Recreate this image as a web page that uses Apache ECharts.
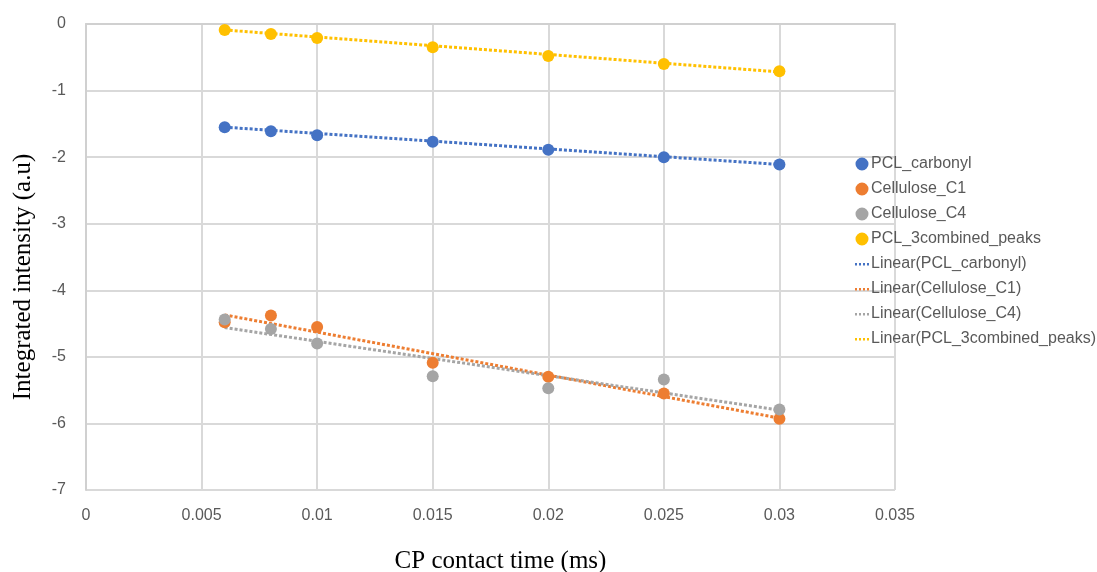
<!DOCTYPE html>
<html>
<head>
<meta charset="utf-8">
<script src="https://cdn.jsdelivr.net/npm/echarts@6/dist/echarts.min.js"></script>
<style>
  html, body { margin: 0; padding: 0; background: #fff; }
  #chart { width: 1097px; height: 572px; }
</style>
</head>
<body>
<div id="chart"></div>
<script>
// CP contact times (ms)
const contactTimes = [0.006, 0.008, 0.01, 0.015, 0.02, 0.025, 0.03];

// integrated intensities
const pclCarbonyl = [-1.55, -1.61, -1.67, -1.77, -1.89, -2.0, -2.11];
const celluloseC1 = [-4.48, -4.38, -4.55, -5.09, -5.3, -5.55, -5.93];
const celluloseC4 = [-4.44, -4.58, -4.8, -5.29, -5.47, -5.34, -5.79];
const pcl3Combined = [-0.09, -0.15, -0.21, -0.35, -0.48, -0.6, -0.71];

// trend line end points (at first and last contact time)
const trendX = [0.006, 0.03];
const trendPcl = [-1.55, -2.11];
const trendC1 = [-4.37, -5.92];
const trendC4 = [-4.56, -5.8];
const trendPcl3 = [-0.09, -0.72];

const seriesNames = ['PCL_carbonyl', 'Cellulose_C1', 'Cellulose_C4', 'PCL_3combined_peaks'];
const colors = ['#4472C4', '#ED7D31', '#A5A5A5', '#FFC000'];

const zip = (xs, ys) => xs.map((x, i) => [x, ys[i]]);

// legend markers: a smaller dot and a short dotted line, both in a 16x16 box
const dotIcon = 'path://M1.5,8a6.5,6.5 0 1,0 13,0a6.5,6.5 0 1,0 -13,0zM0,0h0.01v0.01h-0.01zM16,16h0.01v0.01h-0.01z';
const dashIcon = 'path://M1,7h2v2.5h-2zM5,7h2v2.5h-2zM9,7h2v2.5h-2zM13,7h2v2.5h-2zM0,0h0.01v0.01h-0.01zM16,16h0.01v0.01h-0.01z';

const chart = echarts.init(document.getElementById('chart'));

const pointSets = [pclCarbonyl, celluloseC1, celluloseC4, pcl3Combined];
const trendSets = [trendPcl, trendC1, trendC4, trendPcl3];

const scatterSeries = pointSets.map((vals, i) => ({
  name: seriesNames[i],
  type: 'scatter',
  symbolSize: 12,
  z: 5,
  itemStyle: { color: colors[i], opacity: 1 },
  data: zip(contactTimes, vals)
}));

const trendSeries = trendSets.map((vals, i) => ({
  name: 'Linear(' + seriesNames[i] + ')',
  type: 'line',
  symbol: 'none',
  z: 3,
  itemStyle: { color: colors[i] },
  lineStyle: { color: colors[i], width: 3, type: [3, 2] },
  data: zip(trendX, vals)
}));

const axisText = { color: '#595959', fontSize: 16, fontFamily: 'Liberation Sans' };
const nameText = { color: '#000', fontSize: 25, fontFamily: 'Liberation Serif' };

chart.setOption({
  animation: false,
  grid: { left: 86, right: 202, top: 24, bottom: 82, outerBoundsMode: 'none', containLabel: false },
  legend: {
    orient: 'vertical',
    left: 849,
    top: 151,
    itemGap: 9,
    itemWidth: 16,
    itemHeight: 16,
    textStyle: { color: '#595959', fontSize: 16, fontFamily: 'Liberation Sans', padding: [0, 0, 0, -4] },
    data: [
      ...seriesNames.map(n => ({ name: n, icon: dotIcon, itemStyle: { opacity: 1 } })),
      ...seriesNames.map(n => ({ name: 'Linear(' + n + ')', icon: dashIcon }))
    ]
  },
  xAxis: {
    type: 'value',
    min: 0,
    max: 0.035,
    interval: 0.005,
    name: 'CP contact time (ms)',
    nameLocation: 'middle',
    nameGap: 59,
    nameTextStyle: { ...nameText, padding: [0, 0, 0, 20] },
    axisLine: { show: true, lineStyle: { color: '#d0d0d0', width: 2 } },
    axisTick: { show: false },
    axisLabel: { ...axisText, margin: 18 },
    splitLine: { show: true, lineStyle: { color: '#d9d9d9', width: 2 } }
  },
  yAxis: {
    type: 'value',
    min: -7,
    max: 0,
    interval: 1,
    name: 'Integrated intensity (a.u)',
    nameLocation: 'middle',
    nameGap: 50,
    nameTextStyle: { ...nameText, padding: [0, 40, 0, 0] },
    axisLine: { show: true, onZero: false, lineStyle: { color: '#d0d0d0', width: 2 } },
    axisTick: { show: false },
    axisLabel: { ...axisText, margin: 20 },
    splitLine: { show: true, lineStyle: { color: '#d9d9d9', width: 2 } }
  },
  series: [...scatterSeries, ...trendSeries]
});
</script>
</body>
</html>
